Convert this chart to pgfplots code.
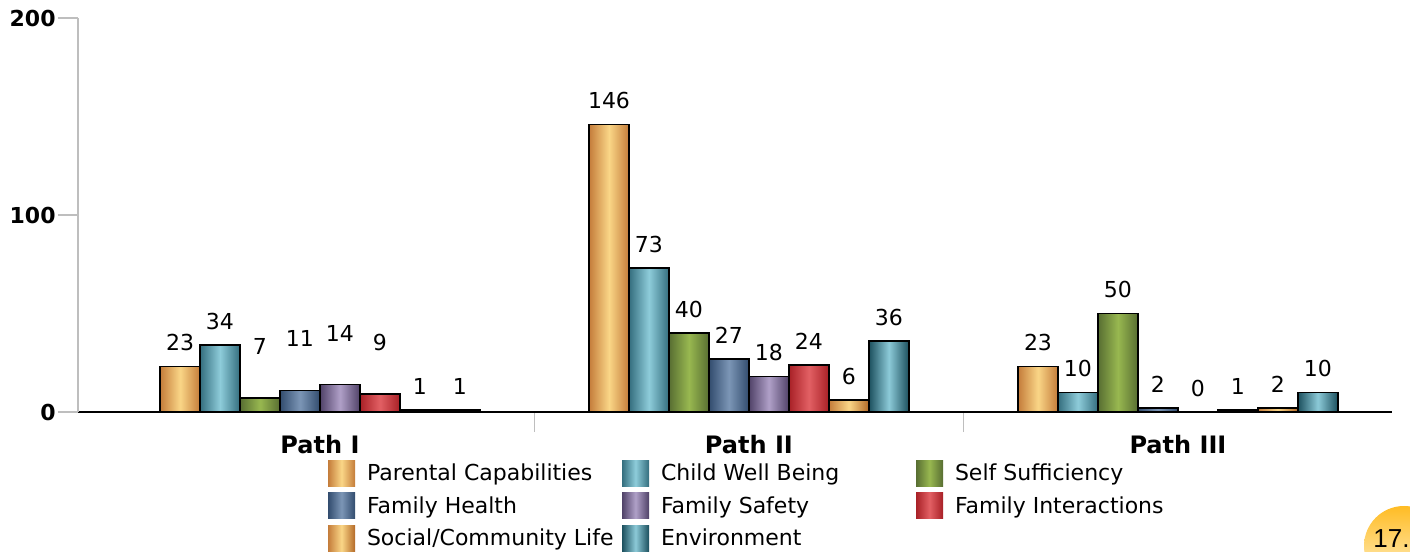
\documentclass[border=0pt]{standalone}
\usepackage{pgfplots}
\pgfplotsset{compat=1.18}
\usepackage{pgfplotstable}
\usepackage{fontspec}
\setmainfont{DejaVu Sans}
\newfontfamily\arialfont{Liberation Sans}

\definecolor{orangeD}{RGB}{196,124,58}
\definecolor{orangeL}{RGB}{250,214,135}
\definecolor{orangeD2}{RGB}{180,106,40}
\definecolor{tealD}{RGB}{52,110,126}
\definecolor{tealL}{RGB}{142,204,218}
\definecolor{greenD}{RGB}{88,110,50}
\definecolor{greenL}{RGB}{152,184,80}
\definecolor{blueD}{RGB}{50,76,110}
\definecolor{blueL}{RGB}{124,150,182}
\definecolor{purpD}{RGB}{80,66,104}
\definecolor{purpL}{RGB}{176,160,200}
\definecolor{redD}{RGB}{168,32,38}
\definecolor{redL}{RGB}{226,96,100}
\definecolor{envD}{RGB}{28,80,94}
\definecolor{envL}{RGB}{140,202,216}
\definecolor{axgray}{RGB}{190,190,190}

\pgfplotstableread{
x s1 s2 s3 s4 s5 s6 s7 s8 ex
0 23 34 7 11 14 9 1 1 14
1 146 73 40 27 18 24 6 36 0
2 23 10 50 2 0 1 2 10 0
}\data

\newcommand{\lbl}[1]{\makebox[127.5pt][l]{#1}}
% one series: column, bar shift, style -- each bar is its own plot so it gets its own shading
\newcommand{\series}[3]{%
  \addplot[#3, bar shift=#2, restrict x to domain=-0.1:0.1] table[x=x,y=#1]{\data};
  \addplot[#3, bar shift=#2, forget plot, restrict x to domain=0.9:1.1] table[x=x,y=#1]{\data};
  \addplot[#3, bar shift=#2, forget plot, restrict x to domain=1.9:2.1] table[x=x,y=#1]{\data};
}

\begin{document}
\begin{tikzpicture}
\useasboundingbox (-39pt,-70pt) rectangle (666pt,206pt);
\clip (-39pt,-70pt) rectangle (666pt,206pt);
\begin{axis}[
  at={(0pt,0pt)}, anchor=south west,
  scale only axis, width=657pt, height=197pt,
  xmin=-0.564, xmax=2.499, ymin=0, ymax=200,
  clip=false,
  ybar=0pt, bar width=0.0932,
  /pgf/number format/assume math mode=true,
  font=\fontsize{11pt}{13pt}\selectfont,
  axis x line*=bottom, axis y line*=left,
  x axis line style={black, line width=0.7pt},
  y axis line style={axgray, line width=0.7pt},
  tick align=outside,
  major tick length=10pt, minor tick length=10pt,
  xtick={0,1,2}, xticklabels={Path I, Path II, Path III},
  minor xtick={0.5,1.5},
  major x tick style={draw=none},
  minor x tick style={axgray, line width=0.7pt},
  xticklabel style={font=\fontsize{12pt}{14pt}\selectfont\bfseries, inner sep=0pt, yshift=-1.5pt},
  ytick={0,100,200},
  ytick style={axgray, line width=0.7pt},
  yticklabel style={font=\fontsize{11pt}{13pt}\selectfont\bfseries, inner sep=1pt},
  visualization depends on={\thisrow{ex}\as\myex},
  nodes near coords,
  every node near coord/.append style={font=\fontsize{11pt}{13pt}\selectfont, inner sep=0pt, anchor=south, yshift=7.3pt, text=black},
  every axis plot/.append style={draw=black, line width=0.8pt},
  legend image code/.code={\path[#1, draw=none] (0pt,-5.7pt) rectangle (13.5pt,7.3pt);},
  legend columns=3,
  legend cell align=left,
  legend style={at={(0.19026,-0.12183)}, anchor=north west, draw=none, fill=none,
    inner sep=0pt, outer sep=0pt, row sep=3pt,
    nodes={inner sep=0pt, text height=9pt, text depth=3pt, font=\fontsize{11pt}{13pt}\selectfont},
    /tikz/every odd column/.append style={column sep=6pt},
    /tikz/every even column/.append style={column sep=0pt}},
]
\series{s1}{-0.3262}{left color=orangeD, right color=orangeD, middle color=orangeL}
\addlegendentry{\lbl{Parental Capabilities}}
\series{s2}{-0.2330}{left color=tealD, right color=tealD, middle color=tealL}
\addlegendentry{\lbl{Child Well Being}}
\series{s3}{-0.1398}{left color=greenD, right color=greenD, middle color=greenL, every node near coord/.append style={yshift=\myex pt}}
\addlegendentry{\lbl{Self Sufficiency}}
\series{s4}{-0.0466}{left color=blueD, right color=blueD, middle color=blueL, every node near coord/.append style={yshift=\myex pt}}
\addlegendentry{\lbl{Family Health}}
\series{s5}{0.0466}{left color=purpD, right color=purpD, middle color=purpL, every node near coord/.append style={yshift=\myex pt}}
\addlegendentry{\lbl{Family Safety}}
\series{s6}{0.1398}{left color=redD, right color=redD, middle color=redL, every node near coord/.append style={yshift=\myex pt}}
\addlegendentry{\lbl{Family Interactions}}
\series{s7}{0.2330}{left color=orangeD, right color=orangeD2, middle color=orangeL}
\addlegendentry{\lbl{Social/Community Life}}
\series{s8}{0.3262}{left color=envD, right color=envD, middle color=envL}
\addlegendentry{\lbl{Environment}}
\end{axis}
\shade[top color={rgb,255:red,255;green,188;blue,36}, bottom color={rgb,255:red,255;green,244;blue,210}] (663pt,-67pt) circle (20pt);
\node[anchor=base west, inner sep=0pt, font=\arialfont\fontsize{13pt}{15pt}\selectfont] at (647.5pt,-67.5pt) {17.};
\end{tikzpicture}
\end{document}
